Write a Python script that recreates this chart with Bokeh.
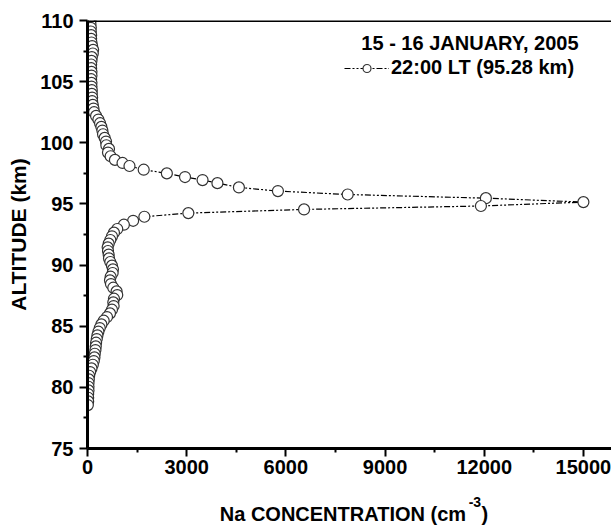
from bokeh.plotting import figure
from bokeh.models import (FixedTicker, Span, Label, Legend, LegendItem,
                          ColumnDataSource, LinearAxis)
from bokeh.embed import file_html
from bokeh.resources import INLINE

# ---- data ----
altitude_km = [110.0, 109.7, 109.4, 109.1, 108.8, 108.5, 108.2, 107.9, 107.6, 107.3,
               107.0, 106.7, 106.4, 106.1, 105.8, 105.5, 105.2, 104.9, 104.6, 104.3,
               104.0, 103.7, 103.4, 103.1, 102.8, 102.5, 102.2, 101.9, 101.6, 101.3,
               101.0, 100.7, 100.4, 100.1, 99.8, 99.5, 99.2, 98.9, 98.6, 98.35,
               98.1, 97.8, 97.5, 97.2, 96.95, 96.7, 96.35, 96.05, 95.77, 95.47,
               95.15, 94.83, 94.55, 94.25, 93.95, 93.62, 93.3, 92.95, 92.65, 92.35,
               92.05, 91.75, 91.45, 91.15, 90.85, 90.55, 90.25, 89.95, 89.65, 89.35,
               89.05, 88.75, 88.45, 88.15, 87.85, 87.55, 87.25, 86.95, 86.65, 86.35,
               86.05, 85.75, 85.45, 85.15, 84.85, 84.55, 84.25, 83.95, 83.65, 83.35,
               83.05, 82.75, 82.45, 82.15, 81.85, 81.55, 81.25, 80.95, 80.65, 80.35,
               80.05, 79.75, 79.45, 79.15, 78.85, 78.55]
na_conc = [90, 90, 100, 100, 110, 110, 120, 140, 170, 160,
           130, 120, 110, 110, 120, 120, 110, 120, 120, 130,
           130, 140, 140, 160, 180, 200, 260, 330, 380, 420,
           450, 470, 520, 560, 570, 650, 620, 700, 830, 1060,
           1270, 1700, 2400, 2950, 3480, 3930, 4580, 5760, 7870, 12050,
           15000, 11900, 6550, 3050, 1720, 1380, 1100, 900, 800, 740,
           690, 640, 610, 620, 640, 650, 690, 740, 770, 760,
           700, 680, 710, 780, 880, 900, 800, 780, 790, 740,
           680, 590, 490, 420, 370, 330, 300, 280, 260, 250,
           240, 220, 210, 190, 160, 120, 80, 50, 40, 30,
           30, 30, 20, 20, 20, 10]
x_ticks = [0, 3000, 6000, 9000, 12000, 15000]
x_minor = [1500, 4500, 7500, 10500, 13500]
y_ticks = [75, 80, 85, 90, 95, 100, 105, 110]
y_minor = [77.5, 82.5, 87.5, 92.5, 97.5, 102.5, 107.5]
title_text = "15 - 16 JANUARY, 2005"
series_label = "22:00 LT (95.28 km)"
x_title = "Na CONCENTRATION (cm"
x_title_sup = "-3"
x_title_close = ")"
y_title = "ALTITUDE (km)"

FONT = "Liberation Sans"
FS = "20px"
INK = "black"

src = ColumnDataSource(dict(x=na_conc, y=altitude_km))

p = figure(width=611, height=528, x_range=(0, 15850), y_range=(75, 110),
           output_backend="svg", toolbar_location=None,
           min_border_left=87, min_border_right=0, min_border_top=20, min_border_bottom=80)
p.outline_line_color = None
p.xgrid.visible = False
p.ygrid.visible = False

for ax in (p.xaxis[0], p.yaxis[0]):
    ax.axis_line_width = 3
    ax.axis_line_color = INK
    ax.major_tick_line_color = INK
    ax.minor_tick_line_color = INK
    ax.major_tick_line_width = 2
    ax.minor_tick_line_width = 2
    ax.major_tick_in = 0
    ax.major_tick_out = 8
    ax.minor_tick_in = 0
    ax.minor_tick_out = 4
    ax.major_label_text_font = FONT
    ax.major_label_text_font_style = "bold"
    ax.major_label_text_font_size = FS
    ax.major_label_text_color = INK

p.xaxis.ticker = FixedTicker(ticks=x_ticks, minor_ticks=x_minor)
p.yaxis.ticker = FixedTicker(ticks=y_ticks, minor_ticks=y_minor)
p.xaxis.major_label_standoff = 3
p.yaxis.major_label_standoff = 6
p.yaxis.axis_label = y_title
p.yaxis.axis_label_text_font = FONT
p.yaxis.axis_label_text_font_style = "bold"
p.yaxis.axis_label_text_font_size = "21px"
p.yaxis.axis_label_text_color = INK
p.yaxis.axis_label_standoff = 7

# x-axis title built from two label-only axes below the main axis
# (superscript row, then the main row); tick positions only place the text pieces
sup_pos = 11718
main_pos = 7726
close_pos = 12020


def text_axis(ticks, overrides, size, standoff):
    a = LinearAxis(ticker=FixedTicker(ticks=ticks, minor_ticks=[]),
                   major_label_overrides=overrides)
    a.axis_line_color = None
    a.major_tick_line_color = None
    a.minor_tick_line_color = None
    a.major_tick_out = 0
    a.major_tick_in = 0
    a.minor_tick_out = 0
    a.major_label_standoff = standoff
    a.major_label_text_font = FONT
    a.major_label_text_font_style = "bold"
    a.major_label_text_font_size = size
    a.major_label_text_color = INK
    return a


p.add_layout(text_axis([sup_pos], {sup_pos: x_title_sup}, "14px", 20), "below")
p.add_layout(text_axis([main_pos, close_pos], {main_pos: x_title, close_pos: x_title_close},
                       FS, -7), "below")

p.add_layout(Span(location=110, dimension="width", line_color=INK, line_width=3))

line_r = p.line("x", "y", source=src, line_color=INK, line_width=1.2,
                line_dash="6 2 2 2 2 2")
scat_r = p.scatter("x", "y", source=src, size=11, fill_color="white",
                   line_color="#333333", line_width=1.2)

legend = Legend(items=[LegendItem(label=series_label, renderers=[line_r, scat_r])],
                location=(257, 369), glyph_width=45, glyph_height=20,
                label_standoff=2, padding=0, margin=0, spacing=0,
                border_line_color=None, background_fill_alpha=0,
                label_text_font=FONT, label_text_font_style="bold",
                label_text_font_size=FS, label_text_color=INK)
p.add_layout(legend)

p.add_layout(Label(x=491, y=406, x_units="screen", y_units="screen", text=title_text,
                   text_align="right", text_baseline="middle", text_font=FONT,
                   text_font_style="bold", text_font_size=FS, text_color=INK))

open("out.html", "w").write(file_html(p, INLINE))
